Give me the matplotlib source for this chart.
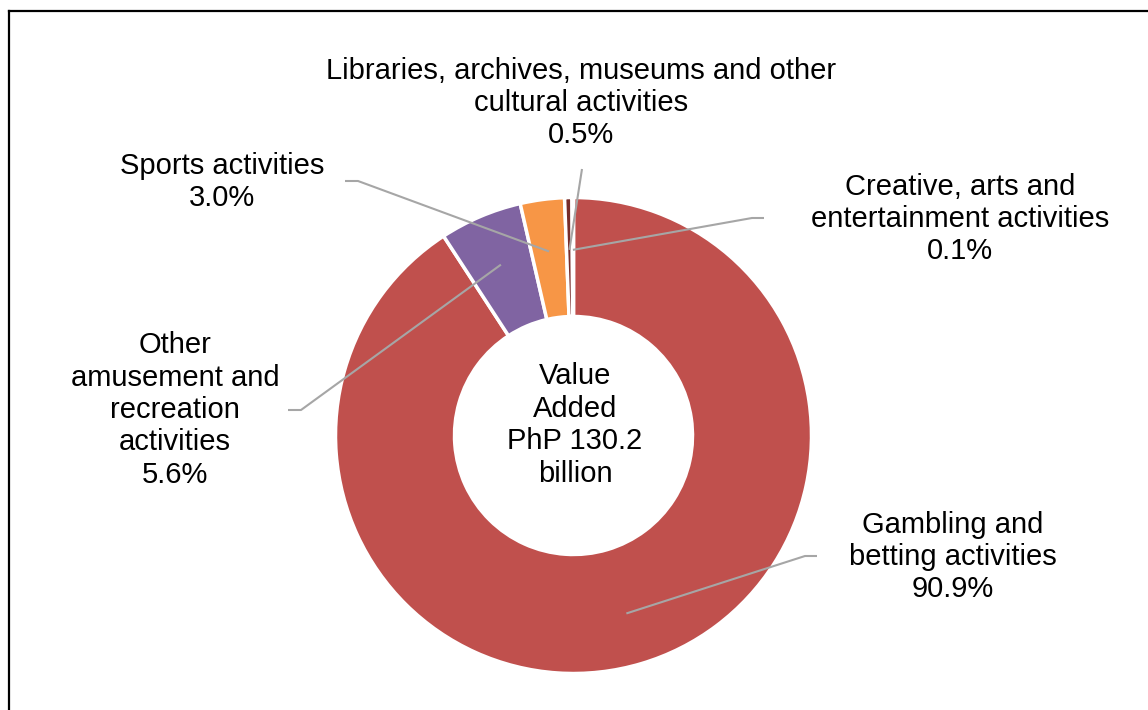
import numpy as np
import matplotlib.pyplot as plt
from matplotlib.lines import Line2D

plt.rcParams['font.family'] = ['Liberation Sans', 'DejaVu Sans']

# data
categories = ['Gambling and\nbetting activities',
              'Other\namusement and\nrecreation\nactivities',
              'Sports activities',
              'Libraries, archives, museums and other\ncultural activities',
              'Creative, arts and\nentertainment activities']
shares = [90.9, 5.6, 3.0, 0.5, 0.1]
colors = ['#C0504D', '#8064A2', '#F79646', '#772C2A', '#F2DCDB']
center_text = 'Value\nAdded\nPhP 130.2\nbillion'

W, H = 1148, 710
fig = plt.figure(figsize=(W / 100, H / 100), dpi=100)
ax = fig.add_axes([0, 0, 1, 1])

cx, cy, R = 573.5, H - 435.5, 238
wedges, _ = ax.pie(shares, colors=colors, startangle=90, counterclock=False,
                   radius=R, center=(cx, cy),
                   wedgeprops=dict(width=R * 0.5, edgecolor='white', linewidth=2.5))
ax.set_xlim(0, W)
ax.set_ylim(0, H)
ax.set_aspect('equal')
ax.set_axis_off()

# label box centre (px from top-left) and leader start / elbow points
label_pos = [(953, 557), (175, 410), (222, 182), (581, 103), (960, 219)]
leader = [[(817, 556), (805, 556)],
          [(288, 410), (301, 410)],
          [(345, 181), (358, 181)],
          [(582, 169)],
          [(764, 218), (752, 218)]]

for w, name, pct, (lx, ly), pts in zip(wedges, categories, shares, label_pos, leader):
    mid = np.deg2rad((w.theta1 + w.theta2) / 2)
    ex = cx + 0.78 * R * np.cos(mid)
    ey = cy + 0.78 * R * np.sin(mid)
    xs = [p[0] for p in pts] + [ex]
    ys = [H - p[1] for p in pts] + [ey]
    ax.plot(xs, ys, color='#A6A6A6', lw=1.5, solid_capstyle='butt', zorder=5)
    ax.text(lx, H - ly, f'{name}\n{pct:.1f}%', ha='center', va='center',
            fontsize=21, color='black', linespacing=1.2)

ax.text(575, H - 425, center_text, ha='center', va='center', fontsize=21,
        linespacing=1.2)

# chart frame (only left and top edges visible)
fig.add_artist(Line2D([9 / W, 9 / W], [0, 1 - 11 / H], color='black', lw=1.6,
                      transform=fig.transFigure))
fig.add_artist(Line2D([9 / W, 1], [1 - 11 / H, 1 - 11 / H], color='black', lw=1.6,
                      transform=fig.transFigure))

fig.savefig('out.png', dpi=100)
